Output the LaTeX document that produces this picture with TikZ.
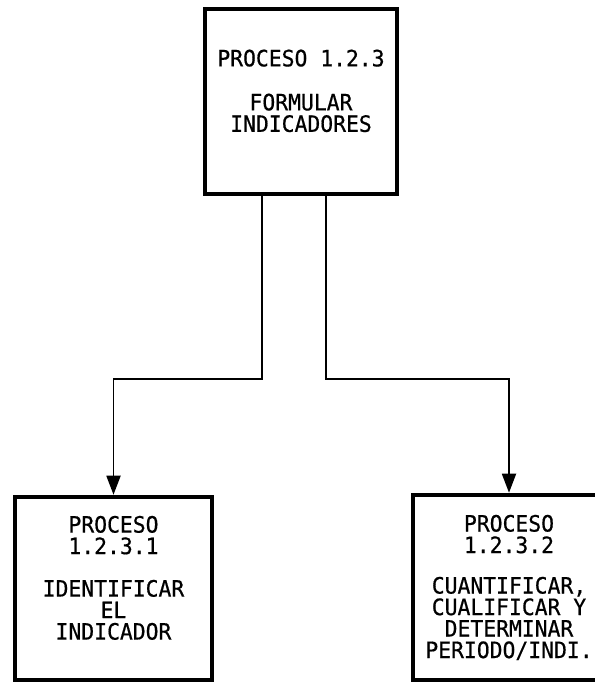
\documentclass[tikz,border=0pt]{standalone}
\usepackage{fontspec}
\usepackage{tikz}
\usetikzlibrary{arrows.meta, positioning}
\newfontfamily\plotfont{DejaVu Sans Mono}[FakeStretch=0.95, FakeBold=0.6]

\begin{document}
\begin{tikzpicture}[x=1pt, y=1pt,
    proceso/.style = {draw, line width=4.5pt, align=center, inner sep=0pt,
      font=\plotfont\fontsize{22.5}{21.5}\selectfont},
    flujo/.style = {line width=1.8pt, -{Triangle[length=19pt, width=14pt]}}]
    \useasboundingbox (0,0) rectangle (594,682);

    \node (p123) [proceso, minimum width=192, minimum height=185] at (301,580.5)
      {PROCESO 1.2.3\\[22.5pt]FORMULAR\\INDICADORES\\[0pt]~};
    \node (p1231) [proceso, minimum width=197, minimum height=183] at (113.5,93.5)
      {PROCESO\\1.2.3.1\\[21pt]IDENTIFICAR\\EL\\INDICADOR\\[0pt]~};
    \node (p1232) [proceso, minimum width=192, minimum height=185] at (509,94.5)
      {PROCESO\\1.2.3.2\\[19pt]CUANTIFICAR,\\CUALIFICAR Y\\DETERMINAR\\PERIODO/INDI.};

    \draw [flujo] ([xshift=-39pt]p123.south) -- ++(0,-183) -| (p1231.north);
    \draw [flujo] ([xshift=25pt]p123.south) -- ++(0,-183) -| (p1232.north);
\end{tikzpicture}
\end{document}
